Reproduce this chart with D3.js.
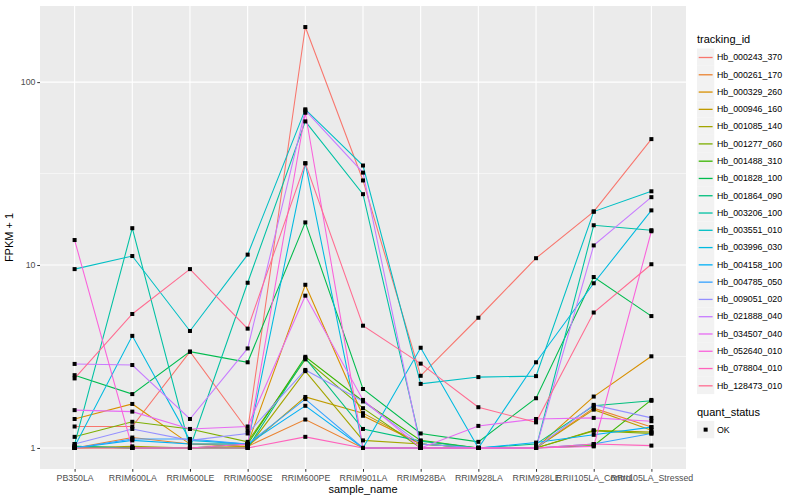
<!DOCTYPE html>
<html>
<head>
<meta charset="utf-8">
<script src="https://cdn.jsdelivr.net/npm/d3@7"></script>
<style>
  body { margin: 0; background: #fff; }
  text { font-family: "Liberation Sans", Arial, sans-serif; }
</style>
</head>
<body>
<div id="chart"></div>
<script>
// Categories and series
var samples = ["PB350LA", "RRIM600LA", "RRIM600LE", "RRIM600SE", "RRIM600PE", "RRIM901LA",
  "RRIM928BA", "RRIM928LA", "RRIM928LE", "RRII105LA_Control", "RRII105LA_Stressed"];

var trackingIds = ["Hb_000243_370", "Hb_000261_170", "Hb_000329_260", "Hb_000946_160",
  "Hb_001085_140", "Hb_001277_060", "Hb_001488_310", "Hb_001828_100", "Hb_001864_090",
  "Hb_003206_100", "Hb_003551_010", "Hb_003996_030", "Hb_004158_100", "Hb_004785_050",
  "Hb_009051_020", "Hb_021888_040", "Hb_034507_040", "Hb_052640_010", "Hb_078804_010",
  "Hb_128473_010"];

// FPKM + 1, one row per tracking_id, one column per sample_name
var fpkmPlusOne = [
  [1.31, 1.31, 3.36, 1.25, 200, 29, 2.48, 5.15, 10.9, 19.6, 48.8],
  [1.0, 1.14, 1.05, 1.02, 1.43, 1.0, 1.0, 1.0, 1.0, 1.65, 1.3],
  [1.44, 1.74, 1.05, 1.05, 7.8, 1.5, 1.05, 1.0, 1.0, 1.91, 3.17],
  [1.0, 1.0, 1.0, 1.02, 1.9, 1.55, 1.05, 1.0, 1.0, 1.62, 1.25],
  [1.0, 1.02, 1.0, 1.0, 2.63, 1.1, 1.05, 1.0, 1.0, 1.25, 1.22],
  [1.15, 1.39, 1.27, 1.08, 3.05, 1.65, 1.0, 1.0, 1.0, 1.24, 1.2],
  [1.02, 1.0, 1.0, 1.05, 3.15, 1.8, 1.1, 1.0, 1.0, 1.03, 1.83],
  [2.5, 1.97, 3.36, 2.94, 17.1, 2.1, 1.2, 1.08, 1.87, 8.6, 5.26],
  [1.02, 1.0, 1.0, 1.0, 3.1, 1.27, 1.09, 1.0, 1.05, 1.7, 1.81],
  [1.05, 15.9, 1.0, 8.0, 61, 24.4, 1.05, 1.0, 1.0, 16.5, 15.5],
  [9.5, 11.2, 4.36, 11.4, 71, 35, 2.24, 2.44, 2.47, 19.6, 25.3],
  [1.02, 4.1, 1.1, 1.05, 36, 1.0, 3.53, 1.0, 2.94, 7.95, 19.9],
  [1.0, 1.1, 1.05, 1.05, 1.7, 1.0, 1.0, 1.0, 1.07, 1.18, 1.3],
  [1.0, 1.12, 1.12, 1.05, 1.85, 1.0, 1.0, 1.0, 1.0, 1.05, 1.2],
  [1.05, 1.27, 1.1, 1.2, 2.67, 1.8, 1.05, 1.0, 1.0, 1.72, 1.46],
  [2.88, 2.84, 1.44, 3.5, 70, 32, 1.0, 1.0, 1.0, 12.8, 23.5],
  [1.61, 1.58, 1.27, 1.31, 6.8, 1.83, 1.0, 1.32, 1.44, 1.46, 1.4],
  [13.7, 1.0, 1.0, 1.05, 68, 1.0, 1.0, 1.0, 1.0, 1.02, 15.3],
  [1.0, 1.0, 1.0, 1.0, 1.15, 1.0, 1.0, 1.0, 1.0, 1.05, 1.03],
  [2.4, 5.4, 9.5, 4.49, 36, 4.66, 2.89, 1.67, 1.38, 5.5, 10.1]
];

var yTicks = [1, 10, 100];
var yMinor = [Math.pow(10, 0.5), Math.pow(10, 1.5)];
var statusLevels = ["OK"];

// ggplot hue palette for 20 levels
var palette = ["#F8766D", "#EA8331", "#D89000", "#C09B00", "#A3A500", "#7CAE00", "#39B600",
  "#00BB4E", "#00BF7D", "#00C1A3", "#00BFC4", "#00BAE0", "#00B0F6", "#35A2FF", "#9590FF",
  "#C77CFF", "#E76BF3", "#FA62DB", "#FF62BC", "#FF6C91"];

// Set up the chart viewport
var svgWidth = 800;
var svgHeight = 500;
var margin = { top: 6, right: 114, bottom: 31, left: 40 };
var width = svgWidth - margin.left - margin.right;
var height = svgHeight - margin.top - margin.bottom;

var svg = d3.select("#chart")
  .append("svg")
  .attr("width", svgWidth)
  .attr("height", svgHeight);
var chartGroup = svg.append("g")
  .attr("transform", `translate(${margin.left}, ${margin.top})`);

// Scales (log10 y with 5% expansion like ggplot)
var xScale = d3.scalePoint().domain(samples).range([0, width]).padding(0.6);
var allVals = d3.merge(fpkmPlusOne);
var lo = Math.log10(d3.min(allVals)), hi = Math.log10(d3.max(allVals));
var pad = (hi - lo) * 0.05;
var yScale = d3.scaleLog()
  .domain([Math.pow(10, lo - pad), Math.pow(10, hi + pad)])
  .range([height, 0]);
var color = d3.scaleOrdinal().domain(trackingIds).range(palette);

// Panel background and grid
chartGroup.append("rect")
  .attr("width", width).attr("height", height).attr("fill", "#EBEBEB");
chartGroup.selectAll(".minor")
  .data(yMinor).enter().append("line")
  .attr("x1", 0).attr("x2", width)
  .attr("y1", d => yScale(d)).attr("y2", d => yScale(d))
  .attr("stroke", "#fff").attr("stroke-width", 0.55);
chartGroup.selectAll(".hmajor")
  .data(yTicks).enter().append("line")
  .attr("x1", 0).attr("x2", width)
  .attr("y1", d => yScale(d)).attr("y2", d => yScale(d))
  .attr("stroke", "#fff").attr("stroke-width", 1.1);
chartGroup.selectAll(".vmajor")
  .data(samples).enter().append("line")
  .attr("y1", 0).attr("y2", height)
  .attr("x1", d => xScale(d)).attr("x2", d => xScale(d))
  .attr("stroke", "#fff").attr("stroke-width", 1.1);

// Lines
var series = trackingIds.map(function(id, i) {
  return { id: id, values: samples.map((s, j) => ({ sample: s, value: fpkmPlusOne[i][j] })) };
});
var line = d3.line().x(d => xScale(d.sample)).y(d => yScale(d.value));

chartGroup.selectAll(".series")
  .data(series).enter().append("path")
  .attr("d", d => line(d.values))
  .attr("fill", "none")
  .attr("stroke", d => color(d.id))
  .attr("stroke-width", 1.07);

// Points
var pts = d3.merge(series.map(d => d.values));
chartGroup.selectAll(".pt")
  .data(pts).enter().append("rect")
  .attr("x", d => xScale(d.sample) - 2)
  .attr("y", d => yScale(d.value) - 2)
  .attr("width", 4).attr("height", 4)
  .attr("fill", "#000");

// Axes
var bottomAxis = d3.axisBottom(xScale).tickSize(2.75).tickSizeOuter(0);
var leftAxis = d3.axisLeft(yScale).tickValues(yTicks).tickFormat(d3.format("d"))
  .tickSize(2.75).tickSizeOuter(0);

var xAxisG = chartGroup.append("g")
  .attr("transform", `translate(0, ${height})`)
  .call(bottomAxis);
var yAxisG = chartGroup.append("g").call(leftAxis);
[xAxisG, yAxisG].forEach(function(g) {
  g.select(".domain").remove();
  g.selectAll(".tick line").attr("stroke", "#333333");
  g.selectAll(".tick text").attr("fill", "#4D4D4D").style("font-size", "8.8px");
});
xAxisG.selectAll(".tick text").attr("dy", "0.71em");
yAxisG.selectAll(".tick text").attr("x", -4.5);

// Axis titles
chartGroup.append("text")
  .attr("x", width / 2).attr("y", height + 24)
  .attr("text-anchor", "middle").style("font-size", "11px")
  .text("sample_name");
chartGroup.append("text")
  .attr("transform", "rotate(-90)")
  .attr("x", -height / 2).attr("y", -27)
  .attr("text-anchor", "middle").style("font-size", "11px")
  .text("FPKM + 1");

// Legend: tracking_id
var legend = svg.append("g").attr("transform", "translate(697, 0)");
legend.append("text").attr("x", 0).attr("y", 43).style("font-size", "11px").text("tracking_id");
var items = legend.selectAll(".item")
  .data(trackingIds).enter().append("g")
  .attr("transform", (d, i) => `translate(0, ${48.5 + i * 17.28})`);
items.append("rect").attr("width", 17.28).attr("height", 17.28).attr("fill", "#F2F2F2");
items.append("line")
  .attr("x1", 1.7).attr("x2", 15.6).attr("y1", 9).attr("y2", 9)
  .attr("stroke", d => color(d)).attr("stroke-width", 1.3);
items.append("text").attr("x", 20).attr("y", 11.8).style("font-size", "8.8px").text(d => d);

// Legend: quant_status
var legend2 = svg.append("g").attr("transform", "translate(697, 0)");
legend2.append("text").attr("x", 0).attr("y", 416).style("font-size", "11px").text("quant_status");
var items2 = legend2.selectAll(".item2")
  .data(statusLevels).enter().append("g")
  .attr("transform", (d, i) => `translate(0, ${421 + i * 17.28})`);
items2.append("rect").attr("width", 17.28).attr("height", 17.28).attr("fill", "#F2F2F2");
items2.append("rect").attr("x", 6.64).attr("y", 6.64).attr("width", 4).attr("height", 4).attr("fill", "#000");
items2.append("text").attr("x", 20).attr("y", 11.8).style("font-size", "8.8px").text(d => d);
</script>
</body>
</html>
